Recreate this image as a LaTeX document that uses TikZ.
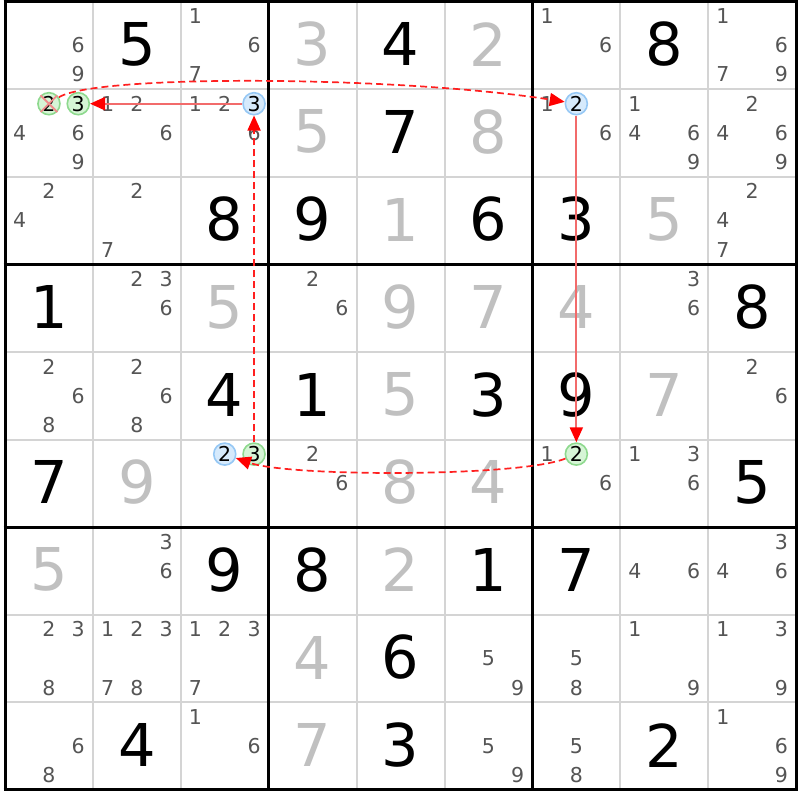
\documentclass[tikz,border=0pt]{standalone}
\usepackage{fontspec}
\setmainfont{DejaVu Sans}
\usetikzlibrary{arrows.meta}
\definecolor{cand}{HTML}{555555}
\definecolor{solved}{HTML}{C0C0C0}
\definecolor{thingrid}{HTML}{D4D4D4}
\definecolor{gfill}{HTML}{D6F5D6}
\definecolor{gline}{HTML}{8ED98E}
\definecolor{bfill}{HTML}{D6EAFC}
\definecolor{bline}{HTML}{96C8F5}
\definecolor{solidred}{HTML}{F26B6B}
\definecolor{dashred}{HTML}{FF2020}
\definecolor{crossc}{HTML}{F08C8C}
\begin{document}
\begin{tikzpicture}[x=1pt,y=-1pt,
  given/.style={font=\fontsize{59}{59}\selectfont, text=black, inner sep=0pt},
  solvedd/.style={given, text=solved},
  candd/.style={font=\fontsize{20.5}{20.5}\selectfont, text=cand, inner sep=0pt},
  circd/.style={circle, minimum size=22pt, inner sep=0pt, line width=1.6pt,
    font=\fontsize{20.5}{20.5}\selectfont, text=black},
  gc/.style={circd, draw=gline, fill=gfill},
  bc/.style={circd, draw=bline, fill=bfill},
  thinline/.style={draw=thingrid, line width=2pt},
  thickline/.style={draw=black, line width=3pt},
  tip/.style={-{Triangle[length=15pt,width=13pt,fill=red,color=red]}},
  strong/.style={draw=solidred, line width=2pt, tip},
  weak/.style={draw=dashred, line width=1.7pt, dash pattern=on 7pt off 4pt, tip},
  xmark/.style={draw=crossc, line width=1.8pt}
]
\useasboundingbox (0,0) rectangle (800,800);
\fill[white] (0,0) rectangle (800,800);
% grid
\foreach \k in {1,2,4,5,7,8} {
  \draw[thinline] ({5+\k*87.9},1.5) -- ({5+\k*87.9},789.9);
  \draw[thinline] (5,{1.5+\k*87.6}) -- (796.1,{1.5+\k*87.6});
}
\foreach \k in {0,3,6,9} {
  \draw[thickline] ({5+\k*87.9},0) -- ({5+\k*87.9},791.4);
  \draw[thickline] (3.5,{1.5+\k*87.6}) -- (797.6,{1.5+\k*87.6});
}
% given digits
\foreach \r/\c/\d in {1/2/5,1/5/4,1/8/8,2/5/7,3/3/8,3/4/9,3/6/6,3/7/3,4/1/1,4/9/8,
  5/3/4,5/4/1,5/6/3,5/7/9,6/1/7,6/9/5,7/3/9,7/4/8,7/6/1,7/7/7,8/5/6,9/2/4,9/5/3,9/8/2} {
  \node[given] (g\r\c) at ({5+(\c-0.5)*87.9},{0.5+(\r-0.5)*87.6}) {\d};
}
% solved digits
\foreach \r/\c/\d in {1/4/3,1/6/2,2/4/5,2/6/8,3/5/1,3/8/5,4/3/5,4/5/9,4/6/7,4/7/4,
  5/5/5,5/8/7,6/2/9,6/5/8,6/6/4,7/1/5,7/5/2,8/4/4,9/4/7} {
  \node[solvedd] (s\r\c) at ({5+(\c-0.5)*87.9},{0.5+(\r-0.5)*87.6}) {\d};
}
% candidates
\foreach \r/\c/\ds in {1/1/{6,9},1/3/{1,6,7},1/7/{1,6},1/9/{1,6,7,9},
  2/1/{4,6,9},2/2/{1,2,6},2/3/{1,2,6},2/7/{1,6},2/8/{1,4,6,9},2/9/{2,4,6,9},
  3/1/{2,4},3/2/{2,7},3/9/{2,4,7},
  4/2/{2,3,6},4/4/{2,6},4/8/{3,6},
  5/1/{2,6,8},5/2/{2,6,8},5/9/{2,6},
  6/4/{2,6},6/7/{1,6},6/8/{1,3,6},
  7/2/{3,6},7/8/{4,6},7/9/{3,4,6},
  8/1/{2,3,8},8/2/{1,2,3,7,8},8/3/{1,2,3,7},8/6/{5,9},8/7/{5,8},8/8/{1,9},8/9/{1,3,9},
  9/1/{6,8},9/3/{1,6},9/6/{5,9},9/7/{5,8},9/9/{1,6,9}} {
  \foreach \d in \ds {
    \pgfmathsetmacro\px{5+(\c-1)*87.9+(2*mod(\d-1,3)+1)*87.9/6}
    \pgfmathsetmacro\py{1.5+(\r-1)*87.6+(2*floor((\d-1)/3)+1)*87.6/6}
    \node[candd] (k\r\c\d) at (\px,\py) {\d};
  }
}
% highlighted candidates
\foreach \r/\c/\d/\sty in {2/1/2/gc,2/1/3/gc,2/3/3/bc,2/7/2/bc,6/3/2/bc,6/3/3/gc,6/7/2/gc} {
  \pgfmathsetmacro\px{5+(\c-1)*87.9+(2*mod(\d-1,3)+1)*87.9/6}
  \pgfmathsetmacro\py{1.5+(\r-1)*87.6+(2*floor((\d-1)/3)+1)*87.6/6}
  \node[\sty] (k\r\c\d) at (\px,\py) {\d};
}
% elimination mark
\draw[xmark] (k212.north west) -- (k212.south east);
\draw[xmark] (k212.north east) -- (k212.south west);
% chain
\draw[weak] (k633) -- (k233);
\draw[strong] (k233) -- (k213);
\draw[weak] (k212) .. controls (95,74) and (400,76) .. (k272);
\draw[strong] (k272) -- (k672);
\draw[weak] (k672) .. controls (520,477) and (290,477) .. (k632);
\end{tikzpicture}
\end{document}
